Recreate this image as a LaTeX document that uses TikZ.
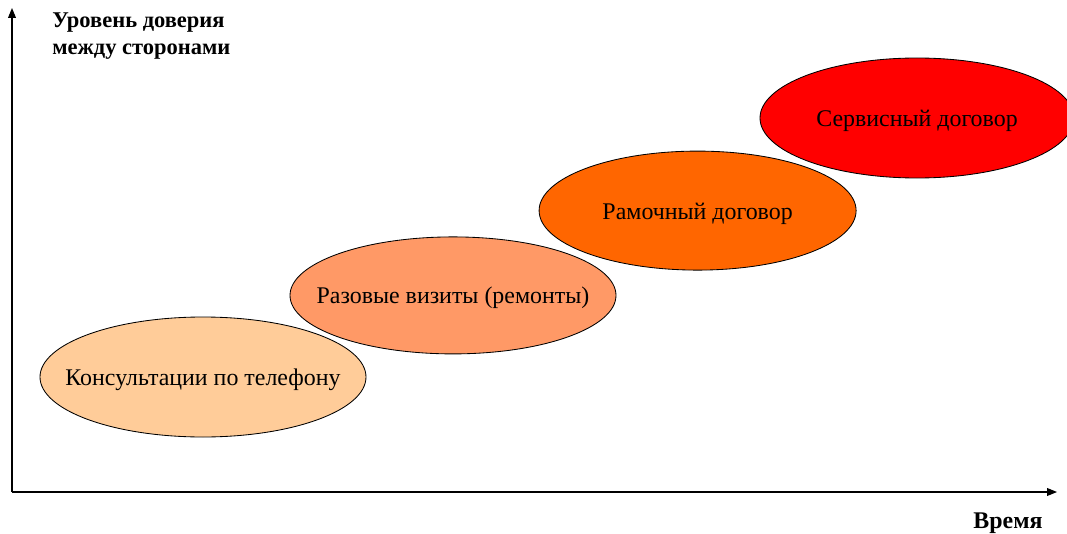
\documentclass[tikz,border=0pt]{standalone}
\usepackage{fontspec}
\setmainfont{Liberation Serif}
\usetikzlibrary{shapes.geometric,arrows.meta}
\definecolor{stagePeach}{RGB}{255,204,153}
\definecolor{stageSalmon}{RGB}{255,153,102}
\definecolor{stageOrange}{RGB}{255,102,0}
\definecolor{stageRed}{RGB}{255,0,0}

\begin{document}
\begin{tikzpicture}
\useasboundingbox (0,0) rectangle (26.675,13.325);
\tikzset{stage/.style={ellipse,draw=black,line width=.6pt,inner sep=0pt,label={[font=\fontsize{17}{20}\selectfont,yshift=-2pt]center:#1}}}
\coordinate (origin) at (0.3,1.025);
\coordinate (ytop) at (0.3,13.125);
\coordinate (xend) at (26.425,1.025);
\draw[-{Triangle[length=7pt,width=5.5pt]},line width=.8pt] (origin)--(ytop);
\draw[-{Triangle[length=7pt,width=5.5pt]},line width=.8pt] (origin)--(xend);
\node[anchor=west,align=left,inner sep=0pt,font=\fontsize{16}{19.2}\selectfont\bfseries] (ylab) at (1.3,12.43) {Уровень доверия\\между сторонами};
\node[font=\fontsize{17}{20}\selectfont\bfseries] (xlab) at (25.2,0.25) {Время};
\node[stage={Консультации по телефону},fill=stagePeach,minimum width=8.15cm,minimum height=3cm] (phone) at (5.075,3.9) {};
\node[stage={Разовые визиты (ремонты)},fill=stageSalmon,minimum width=8.15cm,minimum height=2.925cm] (visits) at (11.325,5.94) {};
\node[stage={Рамочный договор},fill=stageOrange,minimum width=7.925cm,minimum height=2.975cm] (frame) at (17.44,8.06) {};
\node[stage={Сервисный договор},fill=stageRed,minimum width=7.85cm,minimum height=3cm] (service) at (22.925,10.375) {};
\end{tikzpicture}
\end{document}
